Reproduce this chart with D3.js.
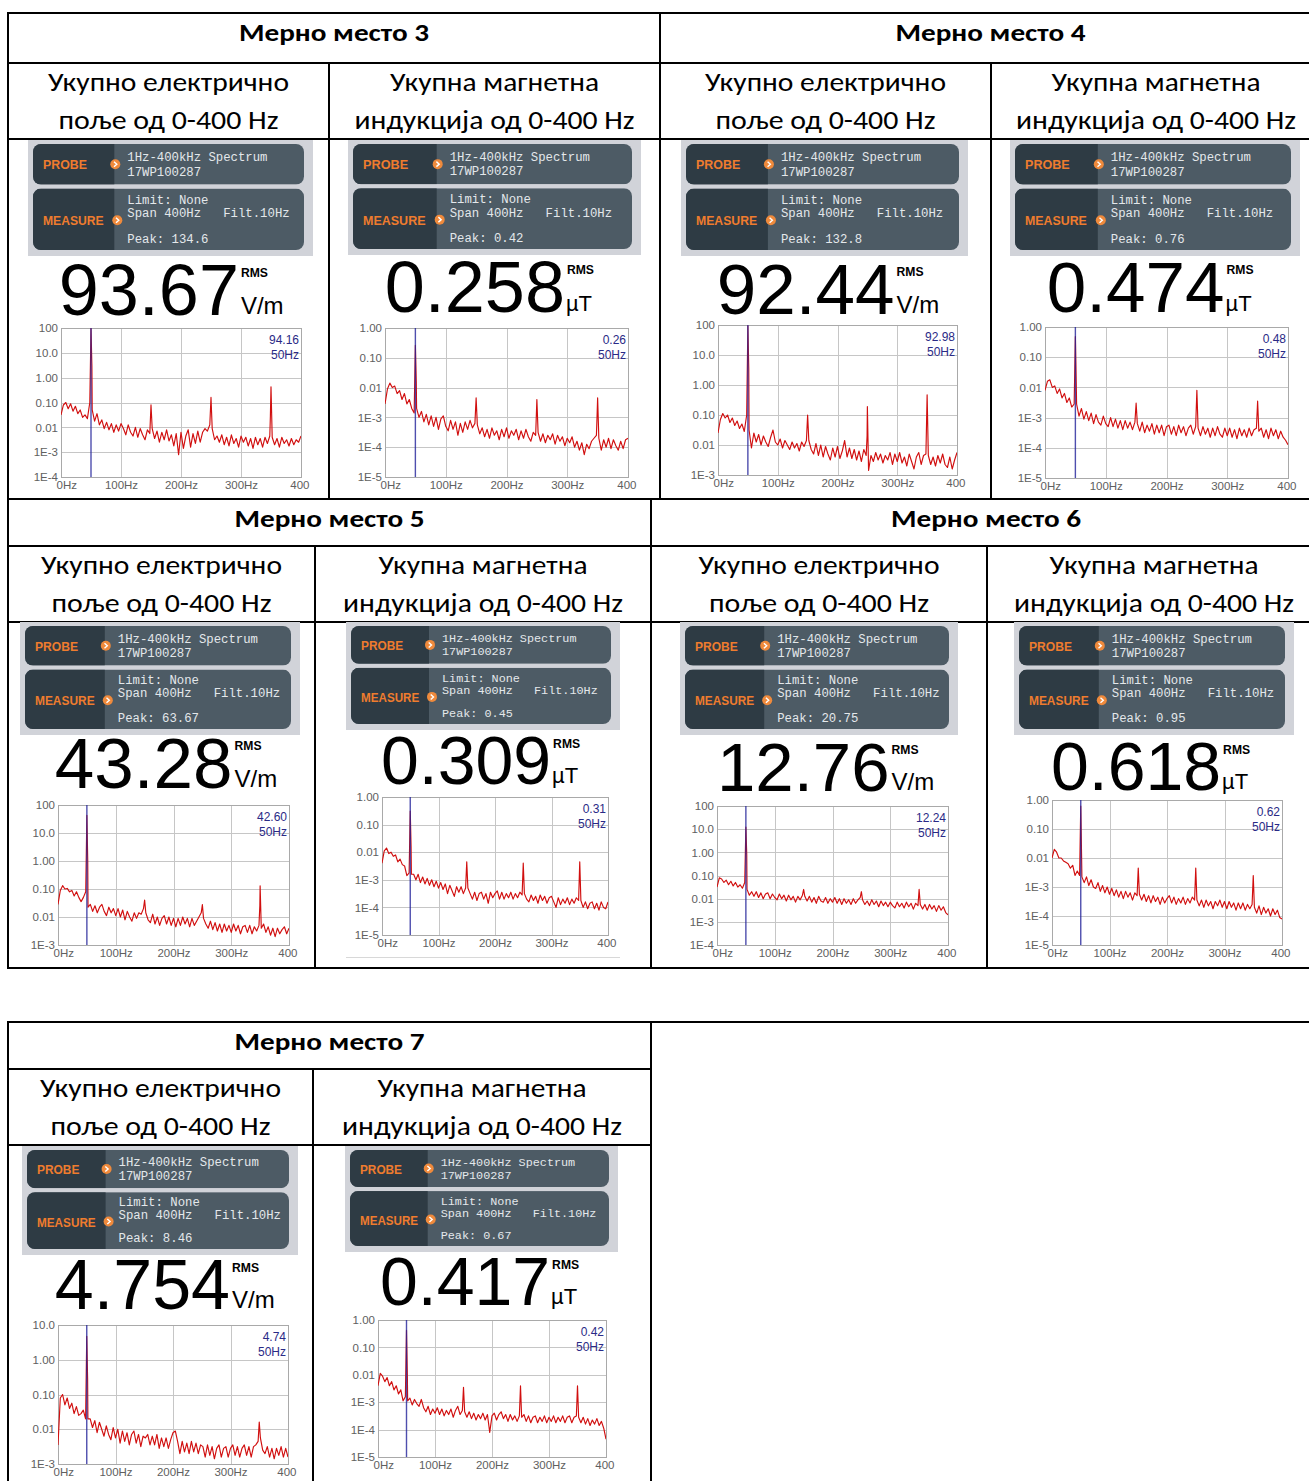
<!DOCTYPE html>
<html><head><meta charset="utf-8">
<script src="https://cdn.jsdelivr.net/npm/d3@7"></script>
<style>
html,body{margin:0;padding:0;background:#fff;}
svg{display:block;}
</style></head><body>
<svg id="chart" width="1309" height="1481"></svg>
<script>
// ---------- text content ----------
const siteTitles = ["Мерно место 3", "Мерно место 4", "Мерно место 5", "Мерно место 6", "Мерно место 7"];
const fieldTitleE = ["Укупно електрично", "поље од 0-400 Hz"];
const fieldTitleB = ["Укупна магнетна", "индукција од 0-400 Hz"];
const probeLines = ["1Hz-400kHz Spectrum", "17WP100287"];
const measureLines = ["Limit: None", "Span 400Hz   Filt.10Hz"];

// ---------- readings per panel (site 3 E, site 3 B, site 4 E, ...) ----------
const peakReadings = ["134.6", "0.42", "132.8", "0.76", "63.67", "0.45", "20.75", "0.95", "8.46", "0.67"];
const rmsReadings = ["93.67", "0.258", "92.44", "0.474", "43.28", "0.309", "12.76", "0.618", "4.754", "0.417"];
const units = ["V/m", "µT", "V/m", "µT", "V/m", "µT", "V/m", "µT", "V/m", "µT"];
const markerValues = [94.16, 0.26, 92.98, 0.48, 42.60, 0.31, 12.24, 0.62, 4.74, 0.42];
const markerFreq = 50;
const yDomains = [[1e-4, 100], [1e-5, 1], [1e-3, 100], [1e-5, 1], [1e-3, 100], [1e-5, 1], [1e-4, 100], [1e-5, 1], [1e-3, 10], [1e-5, 1]];

// ---------- axis ticks ----------
const yTickValues = [100, 10, 1, 0.1, 0.01, 1e-3, 1e-4, 1e-5];
const yTickLabels = ["100", "10.0", "1.00", "0.10", "0.01", "1E-3", "1E-4", "1E-5"];
const xTickValues = [0, 100, 200, 300, 400];
const xTickLabels = ["0Hz", "100Hz", "200Hz", "300Hz", "400"];

// ---------- spectra: log10 of level, one value every 4 Hz from 0 to 400 Hz ----------
const spec3E = [-1.5,-1.1,-1.0,-1.25,-1.05,-1.35,-1.15,-1.45,-1.3,-1.6,-1.5,-1.65,-1.0,
  -1.3,-1.75,-1.45,-1.9,-1.7,-2.05,-1.8,-2.1,-1.85,-2.2,-1.9,-2.15,-1.85,-2.05,-2.3,-1.9,-2.2,-2.35,-2.0,-2.4,-2.05,-2.3,-2.5,-2.1,-2.25,
  -2.05,-2.45,-2.15,-2.6,-2.2,-2.5,-2.1,-2.55,-2.3,-2.75,-2.25,-3.1,-2.2,-2.85,-2.35,-2.1,-2.8,-2.25,-2.65,-2.15,-2.6,-2.2,-2.05,-2.15,-1.9,
  -2.05,-2.5,-2.35,-2.6,-2.3,-2.7,-2.4,-2.75,-2.3,-2.65,-2.45,-2.8,-2.35,-2.6,-2.4,-2.75,-2.45,-2.85,-2.4,-2.7,-2.45,-2.8,-2.4,-2.65,-2.35,
  -2.4,-2.7,-2.45,-2.8,-2.4,-2.65,-2.5,-2.75,-2.45,-2.7,-2.5,-2.6,-2.35];
const spec3B = [-2.55,-2.05,-1.85,-2.0,-1.95,-2.2,-2.1,-2.4,-2.2,-2.55,-2.4,-2.7,-2.85,
  -2.7,-3.0,-2.8,-3.15,-2.9,-3.25,-2.95,-3.3,-3.0,-3.4,-3.05,-2.95,-3.3,-3.45,-3.1,-3.4,-3.15,-3.6,-3.2,-3.5,-3.15,-3.4,-3.1,-3.35,-3.2,
  -3.25,-3.55,-3.35,-3.65,-3.4,-3.7,-3.35,-3.6,-3.45,-3.75,-3.4,-3.65,-3.35,-3.7,-3.45,-3.6,-3.4,-3.75,-3.45,-3.7,-3.4,-3.65,-3.8,-3.5,-3.6,
  -3.5,-3.8,-3.55,-3.85,-3.6,-3.75,-3.55,-3.9,-3.6,-3.8,-3.65,-3.95,-3.7,-3.85,-3.65,-4.0,-3.8,-4.1,-3.85,-4.25,-3.9,-4.05,-3.8,-3.7,-3.6,
  -3.7,-4.1,-3.75,-4.0,-3.7,-4.05,-3.75,-3.95,-4.1,-3.8,-4.05,-3.75,-3.7];
const spec4E = [-1.6,-1.15,-0.95,-1.1,-1.0,-1.25,-1.1,-1.35,-1.2,-1.45,-1.3,-1.55,-1.0,
  -1.5,-2.1,-1.6,-1.9,-1.65,-2.0,-1.7,-1.9,-2.05,-1.75,-1.5,-1.9,-2.0,-1.8,-2.1,-1.85,-2.0,-2.15,-1.9,-2.1,-1.95,-2.2,-1.9,-2.05,-1.85,
  -1.85,-2.15,-2.3,-1.95,-2.35,-2.0,-2.4,-2.05,-2.3,-2.5,-2.1,-2.4,-2.05,-2.45,-2.2,-1.85,-2.4,-2.1,-2.45,-2.15,-2.5,-2.2,-2.55,-2.15,-2.35,
  -2.85,-2.35,-2.55,-2.25,-2.5,-2.3,-2.6,-2.35,-2.5,-2.25,-2.65,-2.3,-2.55,-2.25,-2.6,-2.4,-2.7,-2.3,-2.55,-2.8,-2.4,-2.25,-2.65,-2.35,-2.3,
  -2.35,-2.65,-2.4,-2.7,-2.35,-2.6,-2.3,-2.65,-2.75,-2.4,-2.8,-2.5,-2.25];
const spec4B = [-2.1,-1.8,-1.75,-2.0,-1.95,-2.2,-2.05,-2.35,-2.2,-2.5,-2.35,-2.65,-2.55,
  -2.55,-2.95,-2.7,-3.05,-2.8,-3.1,-2.85,-3.2,-2.9,-3.15,-3.25,-2.95,-3.2,-3.3,-3.0,-3.3,-3.05,-3.35,-3.1,-3.4,-3.1,-3.35,-3.15,-3.4,-3.15,
  -3.2,-3.45,-3.15,-3.5,-3.25,-3.45,-3.2,-3.55,-3.25,-3.5,-3.25,-3.6,-3.3,-3.25,-3.55,-3.3,-3.6,-3.25,-3.5,-3.3,-3.6,-3.35,-3.25,-3.55,-3.3,
  -3.35,-3.6,-3.3,-3.55,-3.35,-3.65,-3.35,-3.6,-3.3,-3.55,-3.65,-3.35,-3.6,-3.35,-3.65,-3.4,-3.7,-3.35,-3.6,-3.4,-3.65,-3.35,-3.6,-3.4,-3.35,
  -3.45,-3.35,-3.65,-3.4,-3.7,-3.35,-3.6,-3.4,-3.7,-3.45,-3.65,-3.75,-3.9];
const spec5E = [-1.55,-1.05,-0.88,-1.0,-0.98,-1.1,-1.05,-1.25,-1.1,-1.3,-1.45,-1.3,-1.1,
  -1.65,-1.55,-1.8,-1.6,-1.85,-1.65,-1.55,-1.8,-1.95,-1.65,-1.85,-1.7,-1.95,-1.7,-2.0,-1.75,-2.1,-1.8,-2.0,-2.15,-1.85,-2.05,-1.85,-1.9,-1.7,
  -1.85,-2.1,-2.2,-1.9,-2.25,-2.0,-2.3,-2.05,-1.95,-2.25,-2.0,-2.3,-2.05,-2.35,-2.05,-2.3,-2.0,-2.25,-2.05,-2.35,-2.05,-2.3,-2.15,-2.0,-1.85,
  -2.05,-2.25,-2.4,-2.15,-2.45,-2.2,-2.5,-2.25,-2.55,-2.25,-2.5,-2.3,-2.55,-2.25,-2.5,-2.3,-2.6,-2.35,-2.3,-2.55,-2.3,-2.6,-2.35,-2.5,-2.3,
  -2.4,-2.25,-2.55,-2.35,-2.65,-2.4,-2.7,-2.4,-2.6,-2.45,-2.35,-2.6,-2.4];
const spec5B = [-2.4,-1.95,-1.85,-2.05,-2.0,-2.15,-2.1,-2.35,-2.25,-2.45,-2.5,-2.85,-2.75,
  -2.8,-2.8,-3.0,-2.8,-3.1,-2.9,-3.15,-2.95,-3.2,-3.0,-3.25,-3.05,-3.3,-3.1,-3.35,-3.15,-3.5,-3.2,-3.4,-3.6,-3.25,-3.45,-3.25,-3.5,-3.3,
  -3.3,-3.5,-3.7,-3.45,-3.75,-3.5,-3.45,-3.7,-3.5,-3.85,-3.45,-3.65,-3.5,-3.4,-3.7,-3.45,-3.7,-3.5,-3.65,-3.45,-3.7,-3.5,-3.65,-3.45,-3.55,
  -3.5,-3.7,-3.8,-3.55,-3.75,-3.6,-3.85,-3.55,-3.75,-3.6,-3.85,-3.65,-3.6,-3.8,-4.0,-3.65,-3.9,-3.7,-3.85,-3.65,-3.9,-3.7,-3.85,-3.65,-3.75,
  -3.75,-4.0,-3.8,-4.05,-3.85,-3.8,-4.05,-3.85,-4.1,-3.8,-4.0,-4.05,-3.8];
const spec6E = [-1.5,-1.1,-1.15,-1.3,-1.2,-1.4,-1.25,-1.45,-1.3,-1.5,-1.4,-1.55,-1.3,
  -1.6,-1.85,-1.7,-1.9,-1.7,-1.95,-1.75,-2.0,-1.8,-1.75,-2.0,-1.8,-1.95,-2.05,-1.8,-2.0,-1.85,-2.1,-1.85,-2.05,-1.9,-2.15,-1.9,-2.05,-1.85,
  -1.9,-2.1,-1.9,-2.15,-1.95,-2.2,-1.9,-2.1,-2.15,-1.95,-2.2,-2.0,-2.15,-1.95,-2.2,-2.0,-2.25,-2.0,-2.2,-2.05,-2.25,-2.0,-2.2,-2.05,-1.95,
  -2.05,-2.25,-2.1,-2.3,-2.05,-2.25,-2.1,-2.35,-2.1,-2.3,-2.15,-2.35,-2.15,-2.3,-2.4,-2.15,-2.35,-2.2,-2.4,-2.15,-2.35,-2.2,-2.45,-2.2,-2.3,
  -2.25,-2.45,-2.25,-2.5,-2.25,-2.45,-2.3,-2.55,-2.3,-2.5,-2.35,-2.6,-2.7];
const spec6B = [-2.0,-1.7,-1.8,-2.0,-2.0,-2.1,-2.15,-2.2,-2.35,-2.25,-2.6,-2.45,-2.6,
  -2.65,-2.85,-2.65,-2.95,-2.75,-3.0,-3.05,-2.85,-3.15,-2.95,-3.2,-3.0,-3.25,-3.05,-3.3,-3.1,-3.35,-3.15,-3.4,-3.15,-3.35,-3.2,-3.45,-3.2,-3.3,
  -3.25,-3.45,-3.25,-3.5,-3.3,-3.55,-3.3,-3.5,-3.35,-3.6,-3.35,-3.55,-3.4,-3.3,-3.55,-3.35,-3.6,-3.4,-3.55,-3.35,-3.6,-3.4,-3.55,-3.35,-3.45,
  -3.45,-3.65,-3.45,-3.7,-3.45,-3.65,-3.5,-3.75,-3.5,-3.65,-3.45,-3.7,-3.5,-3.75,-3.5,-3.7,-3.55,-3.8,-3.55,-3.75,-3.55,-3.8,-3.6,-3.75,-3.6,
  -3.7,-3.9,-3.65,-3.95,-3.7,-3.9,-3.75,-4.0,-3.75,-3.95,-3.8,-4.05,-4.1];
const spec7E = [-2.45,-1.1,-1.0,-1.3,-1.1,-1.4,-1.25,-1.55,-1.35,-1.6,-1.55,-1.45,-1.7,
  -1.7,-1.7,-1.95,-1.75,-2.1,-1.8,-2.0,-2.2,-1.9,-2.15,-2.3,-1.95,-2.25,-2.0,-2.4,-2.05,-2.35,-2.1,-2.45,-2.15,-2.05,-2.4,-2.15,-2.5,-2.2,
  -2.25,-2.15,-2.45,-2.2,-2.45,-2.15,-2.55,-2.25,-2.5,-2.25,-2.55,-2.3,-2.1,-2.05,-2.35,-2.7,-2.35,-2.65,-2.4,-2.7,-2.35,-2.65,-2.4,-2.7,-2.45,
  -2.5,-2.8,-2.45,-2.75,-2.5,-2.85,-2.55,-2.45,-2.8,-2.55,-2.5,-2.8,-2.55,-2.45,-2.75,-2.5,-2.8,-2.55,-2.45,-2.75,-2.5,-2.8,-2.5,-2.45,-2.35,
  -2.25,-2.6,-2.7,-2.5,-2.8,-2.55,-2.85,-2.55,-2.75,-2.5,-2.8,-2.55,-2.8];
const spec7B = [-2.4,-1.95,-2.05,-2.25,-2.1,-2.4,-2.25,-2.55,-2.4,-2.7,-2.55,-2.95,-2.8,
  -2.95,-2.85,-3.1,-2.9,-3.05,-3.15,-2.9,-3.2,-3.35,-3.15,-3.45,-3.25,-3.4,-3.2,-3.45,-3.25,-3.5,-3.3,-3.45,-3.25,-3.55,-3.3,-3.15,-3.45,-3.3,
  -3.35,-3.55,-3.35,-3.6,-3.4,-3.65,-3.45,-3.6,-3.4,-3.65,-3.45,-4.1,-3.5,-3.4,-3.65,-3.45,-3.35,-3.6,-3.45,-3.7,-3.45,-3.65,-3.5,-3.7,-3.5,
  -3.55,-3.45,-3.7,-3.5,-3.75,-3.55,-3.5,-3.75,-3.55,-3.7,-3.5,-3.75,-3.55,-3.7,-3.5,-3.75,-3.55,-3.7,-3.5,-3.75,-3.55,-3.5,-3.75,-3.55,-3.5,
  -3.55,-3.75,-3.55,-3.8,-3.6,-3.85,-3.65,-3.8,-3.6,-3.85,-3.7,-3.95,-4.35];
const spectra = [spec3E, spec3B, spec4E, spec4B, spec5E, spec5B, spec6E, spec6B, spec7E, spec7B];
const binWidthHz = 4;

// narrow lines: [frequency Hz, level]
const harm3E = [[51.5, 3.0], [150, 0.08], [250, 0.16], [349, 0.03], [350, 0.43]];
const harm3B = [[51.5, 0.015], [150, 0.0045], [250, 0.004], [349, 0.001], [350, 0.0045]];
const harm4E = [[51.5, 3.5], [150, 0.1], [249.5, 0.02], [250, 0.19], [350, 0.47]];
const harm4B = [[51.5, 0.012], [150, 0.003], [250, 0.008], [350, 0.0035]];
const harm5E = [[51.5, 1.0], [150, 0.04], [250, 0.028], [349.5, 0.025], [350, 0.13]];
const harm5B = [[51.5, 0.015], [150, 0.0045], [250, 0.004], [350, 0.0045]];
const harm6E = [[51.5, 0.8], [150, 0.025], [250, 0.02], [350, 0.025]];
const harm6B = [[51.5, 0.01], [150, 0.0045], [250, 0.0045], [350, 0.0025]];
const harm7E = [[51.5, 0.28], [350, 0.016]];
const harm7B = [[51.5, 0.01], [150, 0.0035], [250, 0.004], [350, 0.004]];
const harmonics = [harm3E, harm3B, harm4E, harm4B, harm5E, harm5B, harm6E, harm6B, harm7E, harm7B];

// ---------- layout ----------
const tableBlocks = [
  {top: 13, head: 63, sub: 139, bottom: 499, cols: [8, 329, 660, 991, 1321], sites: [0, 1]},
  {top: 499, head: 546, sub: 622, bottom: 968, cols: [8, 315, 651, 987, 1321], sites: [2, 3]},
  {top: 1022, head: 1069, sub: 1145, bottom: 1500, cols: [8, 313, 651], sites: [4], topRight: 1321}
];
// device header area: x, y, w, h
const deviceRects = [
  [28, 140, 285, 116], [348, 140, 293, 115], [681, 140, 287, 116], [1010, 140, 290, 116],
  [20, 622, 280, 113], [346, 622, 274, 108], [680, 622, 278, 113], [1014, 622, 280, 113],
  [22, 1146, 276, 109], [345, 1146, 273, 106]
];
// big reading: visible left x, baseline y, font size
const readingPos = [
  [62, 315, 72], [388, 312, 72], [720, 314, 71], [1050, 312, 71],
  [58, 788, 71], [384, 784, 68], [720, 791, 69], [1054, 790, 68],
  [58, 1309, 70], [383, 1305, 68]
];
// spectrum plot area: x, y, w, h
const plotRects = [
  [61, 328, 240, 149], [385, 328, 243, 149], [718, 325, 239, 150], [1045, 327, 243, 151],
  [58, 805, 231, 140], [382, 797, 226, 138], [717, 806, 231, 139], [1052, 800, 230, 145],
  [58, 1325, 230, 139], [378, 1320, 228, 137]
];

const svg = d3.select("#chart");
const defs = svg.append("defs");
const TEXT_FONT = "Carlito, Lato, 'Noto Sans', sans-serif";
const SANS = "'Liberation Sans', Arial, sans-serif";
const MONO = "'Liberation Mono', 'DejaVu Sans Mono', monospace";

// ---------- table ----------
const tbl = svg.append("g").attr("stroke", "#000").attr("stroke-width", 2).attr("shape-rendering", "crispEdges");
const txt = svg.append("g");
tableBlocks.forEach(b => {
  const left = b.cols[0], right = b.cols[b.cols.length - 1];
  tbl.append("line").attr("x1", left - 1).attr("x2", b.topRight || right).attr("y1", b.top).attr("y2", b.top);
  [b.head, b.sub, b.bottom].forEach(y => tbl.append("line").attr("x1", left - 1).attr("x2", right).attr("y1", y).attr("y2", y));
  b.cols.forEach((x, i) => {
    const full = i % 2 === 0;
    tbl.append("line").attr("x1", x).attr("x2", x).attr("y1", full ? b.top : b.head).attr("y2", b.bottom);
  });
  b.sites.forEach((s, j) => {
    const cx = (b.cols[2 * j] + b.cols[2 * j + 2]) / 2;
    txt.append("text").attr("x", cx).attr("y", b.top + 28)
      .attr("text-anchor", "middle").attr("font-family", TEXT_FONT).attr("font-weight", "bold")
      .attr("font-size", 24).attr("textLength", 190).attr("lengthAdjust", "spacingAndGlyphs")
      .text(siteTitles[s]);
  });
  for (let c = 0; c < b.cols.length - 1; c++) {
    const cx = (b.cols[c] + b.cols[c + 1]) / 2;
    const lines = c % 2 === 0 ? fieldTitleE : fieldTitleB;
    const widths = c % 2 === 0 ? [241, 220] : [209, 280];
    lines.forEach((t, k) => {
      txt.append("text").attr("x", cx).attr("y", b.head + (k === 0 ? 28 : 66))
        .attr("text-anchor", "middle").attr("font-family", TEXT_FONT).attr("font-size", 27)
        .attr("textLength", widths[k]).attr("lengthAdjust", "spacingAndGlyphs").text(t);
    });
  }
});

// ---------- device panels ----------
function roundedBox(g, id, x, y, w, h, split) {
  defs.append("clipPath").attr("id", id).append("rect")
    .attr("x", x).attr("y", y).attr("width", w).attr("height", h).attr("rx", 8);
  const bg = g.append("g").attr("clip-path", `url(#${id})`);
  bg.append("rect").attr("x", x).attr("y", y).attr("width", w).attr("height", h).attr("fill", "#4d5b65");
  bg.append("rect").attr("x", x).attr("y", y).attr("width", split - x).attr("height", h).attr("fill", "#2e3b44");
}
function bullet(g, cx, cy) {
  g.append("circle").attr("cx", cx).attr("cy", cy).attr("r", 5).attr("fill", "#ef8a3c");
  g.append("path").attr("d", `M${cx - 1.3},${cy - 2.5}L${cx + 1.5},${cy}L${cx - 1.3},${cy + 2.5}`)
    .attr("fill", "none").attr("stroke", "#fff").attr("stroke-width", 1.4);
}

deviceRects.forEach((r, k) => {
  const [gx, gy, gw, gh] = r;
  const g = svg.append("g");
  g.append("rect").attr("x", gx).attr("y", gy).attr("width", gw).attr("height", gh).attr("fill", "#d1d3d9");
  const bx = gx + 5, bw = gw - 14;
  const ph = gh * 0.35, py = gy + 4;
  const my = py + ph + 4, mh = gh - ph - 14;
  const split = bx + bw * 0.3;
  roundedBox(g, `probe${k}`, bx, py, bw, ph, split);
  roundedBox(g, `meas${k}`, bx, my, bw, mh, split);
  const lab = (t, y, w) => g.append("text").attr("x", bx + 10).attr("y", y)
    .attr("font-family", "'Liberation Sans Narrow', " + SANS).attr("font-weight", "bold")
    .attr("font-size", 13.5).attr("fill", "#ef7c2e").attr("textLength", w)
    .attr("lengthAdjust", "spacingAndGlyphs").text(t);
  lab("PROBE", py + ph / 2 + 5, bw * 0.162);
  lab("MEASURE", my + mh / 2 + 6, bw * 0.224);
  bullet(g, split + 1, py + ph / 2);
  bullet(g, split + 3, my + mh / 2 + 1);
  const fs = bw >= 262 ? 12.3 : 11.8;
  const mono = (t, y) => g.append("text").attr("x", split + 13).attr("y", y)
    .attr("font-family", MONO).attr("font-size", fs).attr("fill", "#e4e8eb")
    .attr("xml:space", "preserve").style("white-space", "pre").text(t);
  mono(probeLines[0], py + ph * 0.43);
  mono(probeLines[1], py + ph * 0.78);
  mono(measureLines[0], my + mh * 0.25);
  mono(measureLines[1], my + mh * 0.47);
  mono("Peak: " + peakReadings[k], my + mh * 0.88);

  // big RMS reading
  const [nx, ny, ns] = readingPos[k];
  const num = svg.append("text").attr("x", nx - ns * 0.045).attr("y", ny)
    .attr("font-family", SANS).attr("font-size", ns).attr("fill", "#000").text(rmsReadings[k]);
  const end = nx - ns * 0.045 + num.node().getComputedTextLength();
  svg.append("text").attr("x", end + 2).attr("y", ny - ns * 0.53)
    .attr("font-family", SANS).attr("font-weight", "bold").attr("font-size", 12)
    .attr("textLength", 27).attr("lengthAdjust", "spacingAndGlyphs").text("RMS");
  const isB = units[k] === "µT";
  svg.append("text").attr("x", end + (isB ? 1 : 2)).attr("y", ny - 1)
    .attr("font-family", SANS).attr("font-size", isB ? 22 : 24).text(units[k]);
});

// ---------- spectrum plots ----------
const fmtMarker = d3.format(".2f");
plotRects.forEach((r, k) => {
  const [px, py, pw, ph] = r;
  const x = d3.scaleLinear().domain([0, 400]).range([0, pw]);
  const y = d3.scaleLog().domain(yDomains[k]).range([ph, 0]);
  const g = svg.append("g").attr("transform", `translate(${px},${py})`);
  g.append("rect").attr("width", pw).attr("height", ph).attr("fill", "#fff");

  const yVals = yTickValues.filter(v => v >= yDomains[k][0] * 0.999 && v <= yDomains[k][1] * 1.001);
  const gy = g.append("g").call(d3.axisLeft(y).tickValues(yVals).tickSize(-pw).tickPadding(3)
    .tickFormat(v => yTickLabels[yTickValues.indexOf(v)]));
  gy.select(".domain").remove();
  gy.selectAll("line").attr("stroke", "#c6c6c6").attr("shape-rendering", "crispEdges");
  gy.selectAll("text").attr("fill", "#606060").attr("font-family", SANS).attr("font-size", 11.5);

  const gx = g.append("g").attr("transform", `translate(0,${ph})`)
    .call(d3.axisBottom(x).tickValues(xTickValues).tickSize(-ph).tickPadding(4)
      .tickFormat((v, i) => xTickLabels[i]));
  gx.select(".domain").remove();
  gx.selectAll("line").attr("stroke", "#c6c6c6").attr("shape-rendering", "crispEdges");
  gx.selectAll("text").attr("fill", "#606060").attr("font-family", SANS).attr("font-size", 11.5);
  gx.selectAll(".tick").filter(v => v === 0).select("text").attr("text-anchor", "start").attr("x", -5);
  gx.selectAll(".tick").filter(v => v === 400).select("text").attr("text-anchor", "end").attr("x", 8);

  g.append("rect").attr("width", pw).attr("height", ph).attr("fill", "none")
    .attr("stroke", "#a9a9a9").attr("shape-rendering", "crispEdges");

  // trace
  defs.append("clipPath").attr("id", `plot${k}`).append("rect").attr("width", pw).attr("height", ph);
  const pts = spectra[k].map((lv, i) => ({f: i * binWidthHz, v: Math.pow(10, lv)}))
    .concat(harmonics[k].map(([f, v]) => ({f, v})))
    .concat([{f: markerFreq, v: markerValues[k]}])
    .sort((a, b) => a.f - b.f);
  const line = d3.line().x(d => x(d.f)).y(d => y(d.v));
  g.append("path").datum(pts).attr("clip-path", `url(#plot${k})`)
    .attr("d", line).attr("fill", "none").attr("stroke", "#d10f0f")
    .attr("stroke-width", 1.15).attr("stroke-linejoin", "round");

  // 50 Hz marker
  g.append("line").attr("x1", x(markerFreq)).attr("x2", x(markerFreq)).attr("y1", 0).attr("y2", ph)
    .attr("stroke", "#23239a").attr("stroke-width", 1.4).attr("opacity", 0.8);
  g.append("text").attr("x", pw - 2).attr("y", 16).attr("text-anchor", "end")
    .attr("font-family", SANS).attr("font-size", 12).attr("fill", "#2a2a86").text(fmtMarker(markerValues[k]));
  g.append("text").attr("x", pw - 2).attr("y", 31).attr("text-anchor", "end")
    .attr("font-family", SANS).attr("font-size", 12).attr("fill", "#2a2a86").text(markerFreq + "Hz");
});

// lower edge of the site 5 magnetic screenshot
svg.append("line").attr("x1", 346).attr("x2", 620).attr("y1", 957).attr("y2", 957)
  .attr("stroke", "#d8d8d8").attr("shape-rendering", "crispEdges");
</script>
</body></html>
